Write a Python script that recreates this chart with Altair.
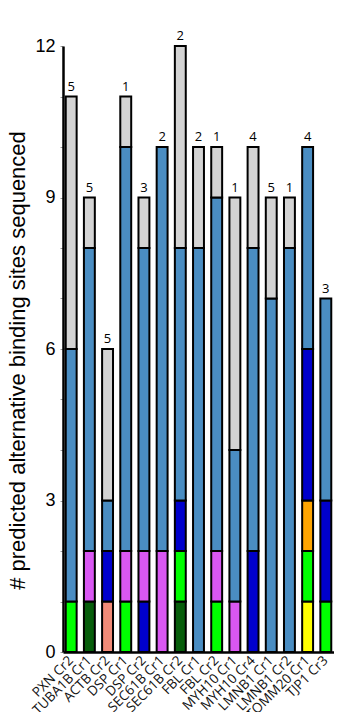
import altair as alt
import pandas as pd

bars = ["PXN Cr2", "TUBA1B Cr1", "ACTB Cr2", "DSP Cr1", "DSP Cr2", "SEC61B Cr1",
        "SEC61B Cr2", "FBL Cr1", "FBL Cr2", "MYH10 Cr1", "MYH10 Cr4", "LMNB1 Cr1",
        "LMNB1 Cr2", "TOMM20 Cr1", "TJP1 Cr3"]

# segment values per category, stacked bottom -> top in this order
yellow    = [0, 0, 0, 0, 0, 0, 0, 0, 0, 0, 0, 0, 0, 1, 0]
salmon    = [0, 0, 1, 0, 0, 0, 0, 0, 0, 0, 0, 0, 0, 0, 0]
darkgreen = [0, 1, 0, 0, 0, 0, 1, 0, 0, 0, 0, 0, 0, 0, 0]
lime      = [1, 0, 0, 1, 0, 0, 1, 0, 1, 0, 0, 0, 0, 1, 1]
orange    = [0, 0, 0, 0, 0, 0, 0, 0, 0, 0, 0, 0, 0, 1, 0]
blue      = [0, 0, 1, 0, 1, 0, 1, 0, 0, 0, 2, 0, 0, 3, 2]
violet    = [0, 1, 0, 1, 1, 2, 0, 0, 1, 1, 0, 0, 0, 0, 0]
steel     = [5, 6, 1, 8, 6, 8, 5, 8, 7, 3, 6, 7, 8, 4, 4]
gray      = [5, 1, 3, 1, 1, 0, 4, 2, 1, 5, 2, 2, 1, 0, 0]

top_labels = [5, 5, 5, 1, 3, 2, 2, 2, 1, 1, 4, 5, 1, 4, 3]

cats = ["yellow", "salmon", "darkgreen", "lime", "orange", "blue", "violet", "steel", "gray"]
series = [yellow, salmon, darkgreen, lime, orange, blue, violet, steel, gray]
colors = ["#FFFF00", "#F28B78", "#075E0B", "#00FF00", "#FFA500", "#0000CC",
          "#D957F2", "#4A8DC2", "#D3D3D3"]

rows = []
for ci, (c, vals) in enumerate(zip(cats, series)):
    for b, v in zip(bars, vals):
        if v > 0:
            rows.append({"bar": b, "cat": c, "value": v, "ord": ci})
seg = pd.DataFrame(rows)

totals = pd.DataFrame({
    "bar": bars,
    "total": [sum(s[i] for s in series) for i in range(len(bars))],
    "lab": [str(t) for t in top_labels],
})

xscale = alt.Scale(domain=bars, paddingInner=0.4, paddingOuter=0.15)
yscale = alt.Scale(domain=[0, 12], nice=False)

stack = alt.Chart(seg).mark_bar(stroke="black", strokeWidth=2).encode(
    x=alt.X("bar:N", scale=xscale, sort=bars,
            axis=alt.Axis(title=None, labelAngle=-45, labelAlign="right",
                          labelBaseline="middle", labelFont="Open Sans",
                          labelFontSize=13.5, labelColor="#111", ticks=False,
                          labelPadding=6, domainColor="black", domainWidth=2.5)),
    y=alt.Y("value:Q", stack="zero", scale=yscale,
            axis=alt.Axis(title="# predicted alternative binding sites sequenced",
                          values=list(range(13)),
                          labelExpr="datum.value % 3 == 0 ? datum.label : ''",
                          labelFont="Liberation Sans", labelFontSize=18,
                          labelColor="black", labelPadding=5,
                          tickSize=3, tickColor="#999", tickWidth=1,
                          domainColor="black", domainWidth=2.5,
                          titleFont="Liberation Sans", titleFontSize=22,
                          titleFontWeight="normal", titleColor="black",
                          titlePadding=5, titleY=314, grid=False)),
    color=alt.Color("cat:N", scale=alt.Scale(domain=cats, range=colors), legend=None),
    order=alt.Order("ord:Q"),
)

text = alt.Chart(totals).mark_text(font="Open Sans", fontSize=13, dy=-10,
                                   color="black").encode(
    x=alt.X("bar:N", scale=xscale, sort=bars),
    y=alt.Y("total:Q", scale=yscale),
    text="lab:N",
)

chart = alt.layer(stack, text).properties(
    width=271, height=606,
    autosize=alt.AutoSizeParams(type="none"),
    padding={"left": 55, "top": 38, "right": 0, "bottom": 60},
).configure_view(stroke=None)

chart.save("out.html", embed_options={"renderer": "svg", "actions": False})
